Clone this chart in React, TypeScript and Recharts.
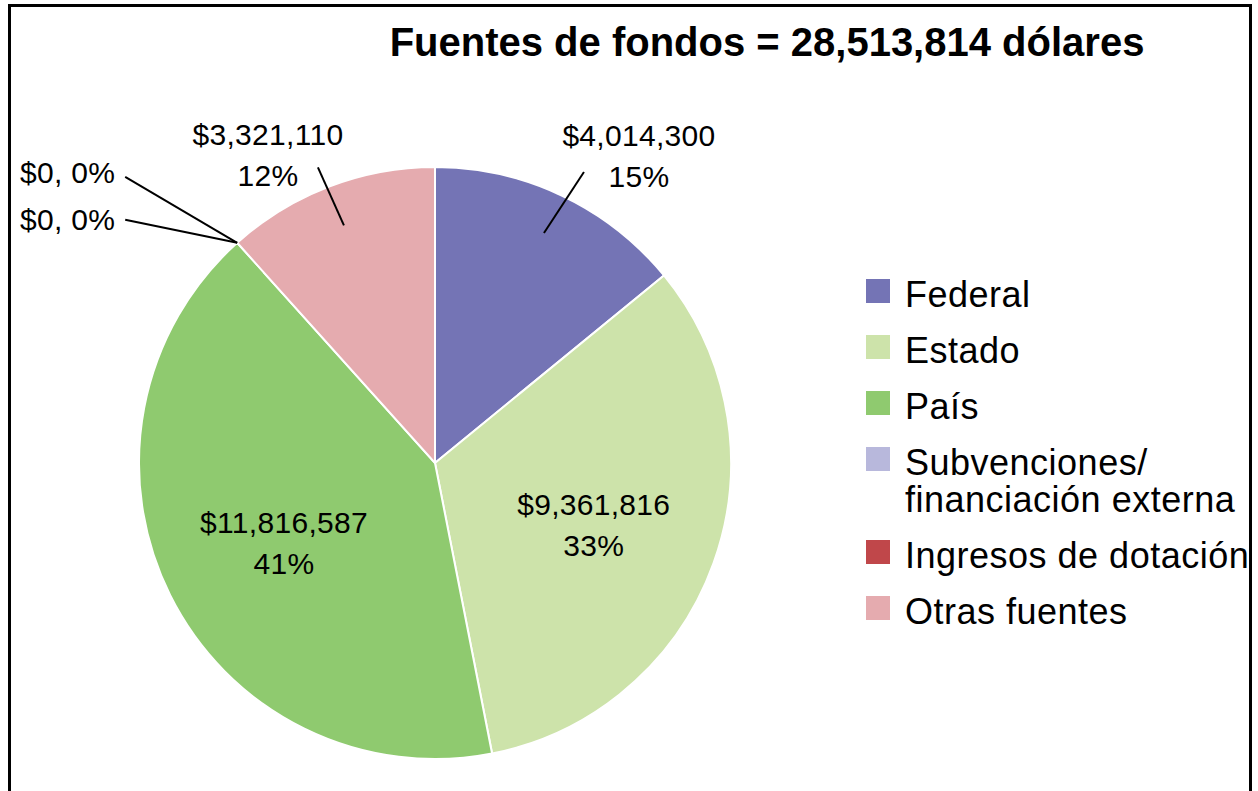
import React from 'react';
import { PieChart, Pie, Cell, Legend } from 'recharts';

const categories = ['Federal', 'Estado', 'País', 'Subvenciones/\nfinanciación externa', 'Ingresos de dotación', 'Otras fuentes'];
const amounts = [4014300, 9361816, 11816587, 0, 0, 3321110];
const amountLabels = ['$4,014,300', '$9,361,816', '$11,816,587', '$0', '$0', '$3,321,110'];
const percentLabels = ['15%', '33%', '41%', '0%', '0%', '12%'];
const colors = ['#7474b5', '#cde3aa', '#8fca6f', '#b8b8dc', '#c0474a', '#e5abaf'];
const labelKinds = ['outside', 'inside', 'inside', 'zeroUpper', 'zeroLower', 'outside'];
const titleText = 'Fuentes de fondos = 28,513,814 dólares';

const data = categories.map((name, i) => ({ name, value: amounts[i] }));

const FONT = '"Liberation Sans", Arial, sans-serif';
const RAD = Math.PI / 180;

function renderLabel(props: any) {
  const { cx, cy, midAngle, outerRadius, index } = props;
  const kind = labelKinds[index];
  const pt = (r: number, a: number) => ({ x: cx + r * Math.cos(-a * RAD), y: cy + r * Math.sin(-a * RAD) });
  const tp = { fontFamily: FONT, fontSize: 30, fill: '#000', letterSpacing: 0.3 };
  if (kind === 'inside') {
    const p = pt(outerRadius * 0.57, midAngle);
    return (
      <g key={`l${index}`}>
        <text x={p.x} y={p.y - 5} textAnchor="middle" {...tp}>{amountLabels[index]}</text>
        <text x={p.x} y={p.y + 36} textAnchor="middle" {...tp}>{percentLabels[index]}</text>
      </g>
    );
  }
  if (kind === 'outside') {
    const a = pt(outerRadius * 0.86, midAngle);
    const right = a.x > cx;
    const b = right ? { x: a.x + 40, y: a.y - 61 } : { x: a.x - 26, y: a.y - 58 };
    const tx = right ? a.x + 95 : a.x - 76;
    const ty = right ? a.y - 87 : a.y - 80;
    return (
      <g key={`l${index}`}>
        <line x1={a.x} y1={a.y} x2={b.x} y2={b.y} stroke="#000" strokeWidth={2} />
        <text x={tx} y={ty} textAnchor="middle" {...tp}>{amountLabels[index]}</text>
        <text x={tx} y={ty + 41} textAnchor="middle" {...tp}>{percentLabels[index]}</text>
      </g>
    );
  }
  const rim = pt(outerRadius, midAngle);
  const upper = kind === 'zeroUpper';
  const ex = rim.x - 112;
  const ey = rim.y + (upper ? -66 : -23);
  return (
    <g key={`l${index}`}>
      <line x1={rim.x} y1={rim.y} x2={ex} y2={ey} stroke="#000" strokeWidth={2} />
      <text x={rim.x - 122} y={rim.y + (upper ? -60 : -13)} textAnchor="end" {...tp}>
        {`${amountLabels[index]}, ${percentLabels[index]}`}
      </text>
    </g>
  );
}

function LegendBox() {
  return (
    <div style={{ fontFamily: FONT, fontSize: 36, lineHeight: '37px', color: '#000', letterSpacing: 0.5 }}>
      {categories.map((c, i) => (
        <div key={c} style={{ display: 'flex', alignItems: 'flex-start', marginBottom: 19 }}>
          <div style={{ width: 24, height: 24, background: colors[i], marginTop: 3, marginRight: 15, flex: 'none' }} />
          <div style={{ whiteSpace: 'pre' }}>{c}</div>
        </div>
      ))}
    </div>
  );
}

export default function App() {
  return (
    <>
      <style>{'html,body{overflow:hidden;height:100%}'}</style>
      <div
        style={{
          position: 'fixed',
          left: 8,
          top: 4,
          width: 1238,
          height: 800,
          borderTop: '3px solid #000',
          borderLeft: '3px solid #000',
          borderRight: '3px solid #000',
          overflow: 'hidden',
          background: '#fff',
          boxSizing: 'content-box',
        }}
      >
        <div
          style={{
            position: 'absolute',
            left: 356,
            top: 15,
            width: 800,
            textAlign: 'center',
            fontFamily: FONT,
            fontWeight: 'bold',
            fontSize: 40,
            lineHeight: '40px',
            color: '#000',
            whiteSpace: 'nowrap',
            zIndex: 2,
          }}
        >
          {titleText}
        </div>
        <PieChart width={1238} height={800} margin={{ top: 0, right: 0, bottom: 0, left: 0 }}>
          <Pie
            data={data}
            dataKey="value"
            nameKey="name"
            cx={424}
            cy={456}
            outerRadius={296}
            startAngle={90}
            endAngle={-270}
            stroke="#fff"
            strokeWidth={2}
            label={renderLabel}
            labelLine={false}
            isAnimationActive={false}
          >
            {data.map((d, i) => (
              <Cell key={d.name} fill={colors[i]} />
            ))}
          </Pie>
          <Legend
            content={() => <LegendBox />}
            wrapperStyle={{ position: 'absolute', left: 855, top: 269, width: 480 }}
          />
        </PieChart>
      </div>
    </>
  );
}
